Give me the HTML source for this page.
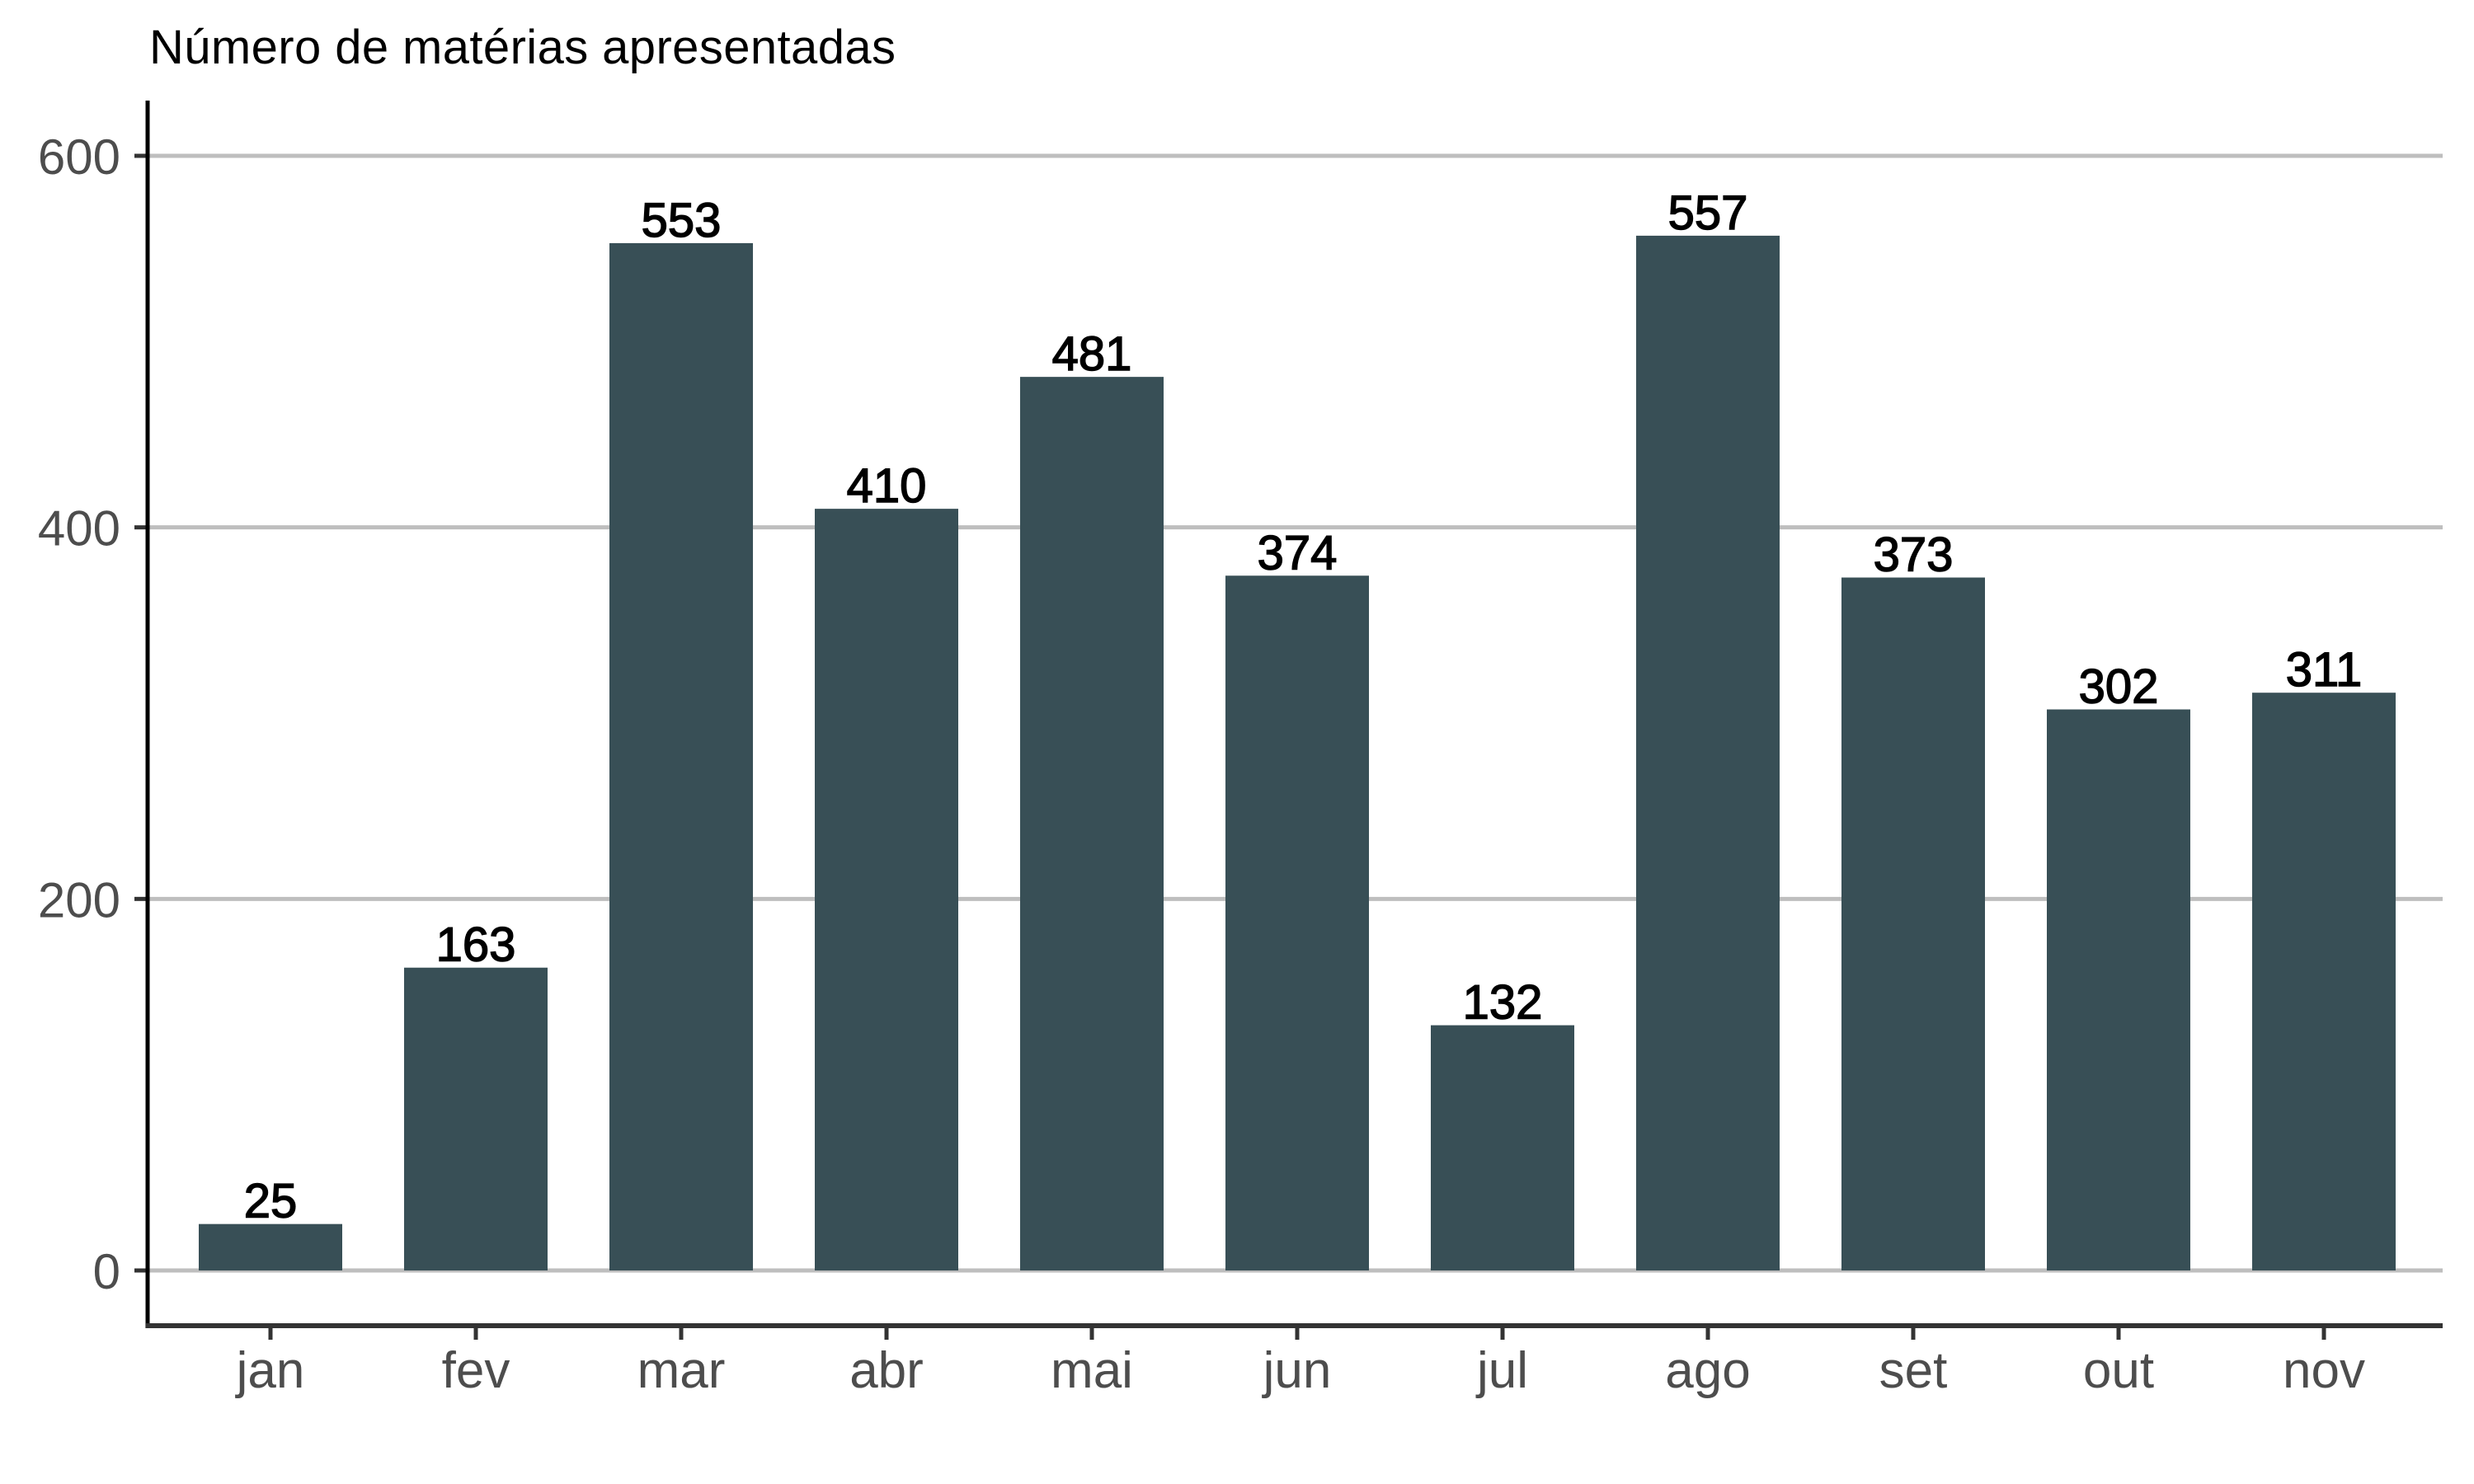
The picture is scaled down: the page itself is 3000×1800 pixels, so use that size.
<!DOCTYPE html>
<html><head><meta charset="utf-8"><style>
html,body{margin:0;padding:0;background:#fff;}
svg{display:block;font-family:"Liberation Sans",sans-serif;}
</style></head><body>
<svg id="chart" width="3000" height="1800" viewBox="0 0 3000 1800">
<text x="181" y="77" font-size="58" fill="#000" textLength="905">Número de matérias apresentadas</text>
<g id="grid"></g><g id="bars"></g><g id="axes"></g>
</svg>
<script>
const categories=["jan","fev","mar","abr","mai","jun","jul","ago","set","out","nov"];
const values=[25,163,553,410,481,374,132,557,373,302,311];
const yTicks=[0,200,400,600];
const NS="http://www.w3.org/2000/svg";
const x0=328,band=249,barW=174,yZero=1541,pxPerUnit=(1541-189)/600;
const xPos=i=>x0+i*band;
const yPos=v=>yZero-v*pxPerUnit;
function mk(tag,attrs,parent){const e=document.createElementNS(NS,tag);for(const k in attrs)e.setAttribute(k,attrs[k]);parent.appendChild(e);return e;}
const grid=document.getElementById('grid'),bars=document.getElementById('bars'),axes=document.getElementById('axes');
yTicks.forEach(t=>{
  const l=mk('line',{x1:179,x2:2962,y1:yPos(t),y2:yPos(t),stroke:'#bebebe','stroke-width':5},grid);
  
  
  const tk=mk('line',{x1:163,x2:179,y1:yPos(t),y2:yPos(t),stroke:'#333','stroke-width':5},axes);
  
  
  const tx=mk('text',{x:146,y:yPos(t)+22,'font-size':60,fill:'#4d4d4d','text-anchor':'end'},axes);
  tx.textContent=t;
  
  
});
categories.forEach((c,i)=>{
  const v=values[i];
  const r=mk('rect',{x:xPos(i)-barW/2,y:yPos(v),width:barW,height:yZero-yPos(v),fill:'#384f56'},bars);
  
  
  const lb=mk('text',{x:xPos(i),y:yPos(v)-8,'font-size':58,fill:'#000','text-anchor':'middle','stroke':'#000','stroke-width':1.5},bars);
  lb.textContent=v;
  
  
  const tk=mk('line',{x1:xPos(i),x2:xPos(i),y1:1608,y2:1625,stroke:'#333','stroke-width':5},axes);
  
  
  const tl=mk('text',{x:xPos(i),y:1683,'font-size':62,fill:'#4d4d4d','text-anchor':'middle'},axes);
  tl.textContent=c;
  
  
});
const ya=mk('line',{x1:179,x2:179,y1:122,y2:1611,stroke:'#000','stroke-width':5},axes);


const xa=mk('line',{x1:177,x2:2962,y1:1608,y2:1608,stroke:'#333','stroke-width':6},axes);


</script>
</body></html>
